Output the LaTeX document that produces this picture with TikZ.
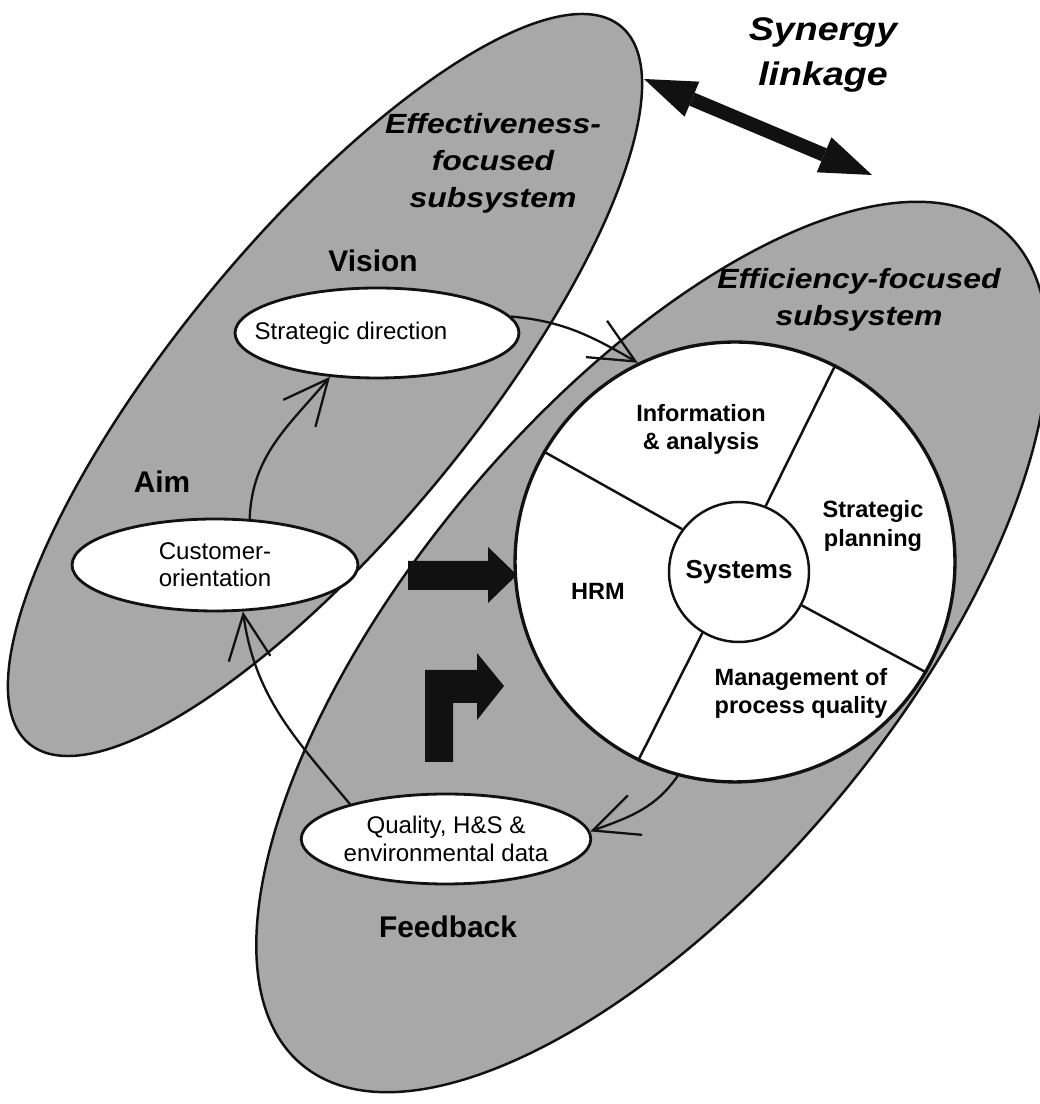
\documentclass[tikz,border=0pt]{standalone}
\usepackage{fontspec}
\setmainfont{Liberation Sans}
\newfontfamily\widesans[FakeStretch=1.15]{Liberation Sans}
\usepackage{tikz}
\usetikzlibrary{arrows.meta,positioning,shapes.geometric}
\definecolor{ink}{HTML}{111111}
\definecolor{screen}{HTML}{A8A8A8}
\tikzset{
  subsys/.style={draw=ink,fill=screen,line width=1.4pt},
  oval/.style={ellipse,draw=ink,fill=white,line width=1.6pt,inner sep=0pt,
               align=center,font=\fontsize{13.7}{15.5}\selectfont},
  segtext/.style={align=center,font=\fontsize{13.4}{16}\selectfont\bfseries},
  stagetext/.style={font=\fontsize{17}{20}\selectfont\bfseries},
  headtext/.style={align=center,font=\widesans\fontsize{15.8}{21}\selectfont\bfseries\itshape},
  spoke/.style={draw=ink,line width=1.4pt},
  flowarr/.style={-{Straight Barb[length=0.9cm,width=0.84cm]},line width=1.3pt,draw=ink},
  blockarr/.style={fill=ink},
  syncarr/.style={{Triangle[length=1.04cm,width=0.76cm,line width=0pt]}-{Triangle[length=1.04cm,width=0.76cm,line width=0pt]},
                  line width=0.28cm,draw=ink}
}

\begin{document}
\begin{tikzpicture}[x=0.02cm,y=0.02cm]
  \useasboundingbox (0,0) rectangle (1039,1104);

  % the two subsystems
  \draw[subsys,rotate around={50.5:(325,719)}] (325,719) ellipse [x radius=465,y radius=148];
  \draw[subsys,rotate around={50:(652,457)}] (652,457) ellipse [x radius=545,y radius=240];

  % wheel of systems
  \node[circle,draw=ink,fill=white,line width=1.9pt,minimum size=8.8cm,inner sep=0pt] (wheel) at (735,542) {};
  \node[circle,draw=ink,fill=white,line width=1.4pt,minimum size=2.8cm,inner sep=0pt,
        font=\fontsize{14.8}{17}\selectfont\bfseries] (sys) at (739,532) {Systems};
  \foreach \a/\b in {143/150,68/63,332/330,239/244}
    \draw[spoke] (sys.\a) -- (wheel.\b);

  \node[segtext] (info) at (701,675) {Information\\\& analysis};
  \node[segtext] (plan) at (873,578) {Strategic\\planning};
  \node[segtext] (hrm) at (598,513) {HRM};
  \node[segtext] (mgmt) at (801,411) {Management of\\process quality};

  % ovals
  \node[oval,minimum width=5.68cm,minimum height=1.8cm] (strat) at (377,771)
    {\makebox[0pt]{Strategic direction\hspace{1.04cm}}};
  \node[oval,minimum width=5.72cm,minimum height=1.84cm] (cust) at (215,539) {Customer-\\orientation};
  \node[oval,minimum width=5.72cm,minimum height=1.8cm] (qual) at (446,265) {Quality, H\&S \&\\environmental data};

  % stage labels
  \node[stagetext] (vision) at (373,843) {Vision};
  \node[stagetext] (aim) at (162,622) {Aim};
  \node[stagetext] (fb) at (448,177) {Feedback};

  % headings
  \node[headtext] (effhead) at (493,941) {Effectiveness-\\focused\\subsystem};
  \node[headtext] (fcyhead) at (859,804) {Efficiency-focused\\subsystem};
  \node[headtext,font=\widesans\fontsize{18.6}{26}\selectfont\bfseries\itshape] (syn) at (823,1049) {Synergy\\linkage};

  % synergy link
  \coordinate (synL) at (644,1025);
  \coordinate (synR) at (872,929);
  \draw[syncarr] (synL) -- (synR);

  % block arrows into the wheel
  \fill[blockarr] (408,514) -- (408,543) -- (488,543) -- (488,557) -- (517,529) -- (488,501) -- (488,514) -- cycle;
  \fill[blockarr] (425,342) -- (425,434) -- (477,434) -- (477,451) -- (504,418) -- (477,384) -- (477,401)
    -- (453,401) -- (453,342) -- cycle;

  % aim, direction and feedback loop
  \draw[flowarr] (cust.53) to[out=88,in=230] (strat.223);
  \draw[flowarr] (strat.7) to[out=-5,in=150] (wheel.116);
  \draw[flowarr] (wheel.255) to[out=235,in=20] (qual.3);
  \draw[flowarr] (qual.160) to[out=130,in=278] (cust.301);
\end{tikzpicture}
\end{document}
